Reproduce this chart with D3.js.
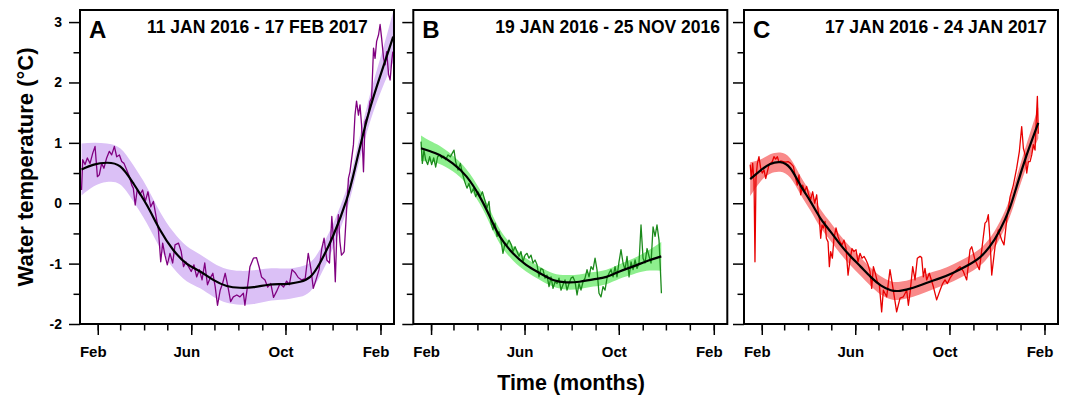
<!DOCTYPE html>
<html>
<head>
<meta charset="utf-8">
<script src="https://cdn.jsdelivr.net/npm/d3@7"></script>
<style>
  body { margin: 0; background: #fff; }
  svg { display: block; font-family: "Liberation Sans", Arial, sans-serif; }
  .tick line { stroke: #000; stroke-width: 1.5; }
  .tick text { font-weight: bold; fill: #000; }
</style>
</head>
<body>
<svg id="Vis" width="1070" height="398"></svg>
<script>
/*
* DATA
*/

// raw series: [day since 1 Jan 2016, water temperature]
const rawA = [[10,0.22],[11.5,0.72],[14.5,0.64],[17.5,0.75],[21,0.66],[24.5,0.83],[27.5,0.94],[30.5,0.44],[33,0.47],[36,0.66],[39,0.58],[42.5,0.75],[46,0.86],[49,0.80],[52.5,0.94],[55.5,0.77],[59,0.80],[62,0.69],[65,0.66],[68.5,0.55],[72,0.44],[75,0.30],[77,0.25],[79.5,-0.03],[82,0.22],[85.5,0.14],[89,0.22],[92.5,0.03],[96,0.19],[99.5,-0.06],[103,0.03],[106.5,-0.22],[109.5,-0.44],[112.5,-0.97],[115,-0.66],[118,-0.86],[121,-1.02],[124.5,-0.83],[128,-0.99],[131,-0.69],[135.5,-0.66],[139,-0.80],[142,-1.05],[145,-0.97],[148.5,-1.05],[152,-1.13],[155.5,-1.02],[159,-1.22],[162.5,-1.10],[166,-1.27],[169.5,-0.99],[173,-1.35],[176.5,-1.24],[180,-1.16],[183,-1.38],[186,-1.69],[189.5,-1.44],[192.5,-1.33],[196,-1.16],[199.5,-1.38],[203,-1.63],[206.5,-1.55],[211,-1.52],[215,-1.55],[219.5,-1.49],[221.5,-1.69],[226,-1.27],[228,-1.05],[232.5,-0.91],[236.5,-0.90],[240,-1.06],[243,-1.22],[247.5,-1.27],[251,-1.39],[255,-1.33],[258.5,-1.56],[262.5,-1.46],[267,-1.33],[271.5,-1.39],[275.5,-1.29],[279,-1.35],[282.5,-1.10],[286.5,-1.15],[290.5,-1.23],[295,-1.27],[299.5,-1.25],[303.5,-0.83],[307,-1.09],[310,-1.41],[313.5,-1.27],[317.5,-1.10],[321,-0.75],[324,-0.58],[327.5,-0.94],[331,-0.99],[334,-0.22],[336.5,-0.66],[338.5,-1.30],[340.5,-0.50],[342.5,-0.19],[344.5,-0.64],[346.5,-0.86],[348.5,-0.83],[350,-0.80],[351.5,-0.47],[353,-0.14],[355.5,0.41],[357.5,0.52],[362,0.97],[364,1.46],[366,1.69],[368.5,1.46],[370.5,1.63],[372.5,1.30],[375,0.52],[377,1.35],[381,1.46],[383.5,1.69],[385.5,1.74],[388,2.57],[390,2.40],[392,2.68],[394.5,2.79],[396.5,2.96],[398.5,2.73],[401,2.40],[403,2.29],[405,2.51],[407.5,2.13],[409.5,2.04],[411.5,2.35],[413,2.51]];

const rawB = [[18,1.02],[19.7,0.66],[21.8,0.88],[24,0.72],[26.6,0.64],[29.2,0.77],[31.8,0.64],[34.4,0.75],[37,0.60],[39.5,0.77],[42.1,0.80],[44.7,0.75],[47.3,0.78],[49.9,0.72],[52.9,0.80],[56,0.77],[58.5,0.83],[60.7,0.88],[62.8,0.69],[65.9,0.55],[68.9,0.66],[71.5,0.50],[74.5,0.36],[77.5,0.25],[80.1,0.33],[83.1,0.17],[86.2,0.25],[88.7,0.11],[91.8,0.19],[94.8,0.11],[97.4,0.19],[100.4,0.06],[103.4,-0.08],[106,0.03],[108.6,-0.33],[111.2,-0.44],[113.8,-0.33],[116.4,-0.55],[119,-0.47],[121.5,-0.61],[124.1,-0.83],[126.7,-0.66],[129.3,-0.69],[131.9,-0.61],[134.9,-0.69],[137.1,-0.80],[139.7,-0.72],[142.3,-0.80],[144.9,-0.88],[147.4,-0.80],[150,-0.97],[152.6,-0.86],[155.2,-0.83],[157.8,-0.91],[160.4,-0.86],[163,-0.99],[165.6,-0.94],[168.2,-1.02],[170.7,-1.22],[173.3,-1.08],[175.9,-1.10],[178.5,-1.24],[181.1,-1.19],[183.7,-1.38],[186.3,-1.22],[188.9,-1.41],[191.5,-1.30],[194.1,-1.33],[196.6,-1.24],[199.2,-1.44],[201.8,-1.35],[204.4,-1.27],[207,-1.44],[209.6,-1.33],[212.2,-1.24],[214.8,-1.22],[217.4,-1.30],[220,-1.52],[222.5,-1.33],[225.1,-1.44],[227.7,-1.30],[230.3,-1.24],[232.9,-1.10],[235.5,-1.22],[238.1,-1.05],[240.7,-1.10],[243.3,-0.91],[245.8,-1.10],[248.4,-1.49],[251,-1.55],[253.6,-1.38],[256.2,-1.44],[258.8,-1.24],[261.4,-1.16],[264,-1.10],[266.6,-1.22],[269.2,-1.05],[271.7,-1.22],[274.3,-0.97],[276.9,-0.77],[279.5,-0.99],[282.1,-1.10],[284.7,-0.88],[287.3,-1.22],[289.9,-0.97],[292.5,-1.10],[295.1,-0.94],[297.6,-1.08],[300.2,-0.99],[302.8,-0.36],[305.4,-0.91],[308,-0.99],[310.6,-0.75],[313.2,-0.88],[315.8,-0.99],[318.4,-0.39],[321,-0.55],[323.5,-0.36],[326.1,-0.61],[327.9,-1.10],[329.2,-1.49]];

const rawC = [[16,0.64],[17.5,0.41],[19.2,0.66],[21,0.36],[22.2,-0.97],[23.5,0.41],[25.3,0.66],[27.4,0.77],[29.6,0.58],[31.7,0.50],[33.9,0.55],[36.1,0.41],[38.2,0.52],[40.4,0.64],[42.5,0.66],[44.7,0.69],[46.8,0.77],[49,0.73],[51.2,0.77],[53.3,0.68],[55.5,0.70],[58.9,0.69],[62,0.68],[65,0.69],[68.4,0.66],[71.9,0.61],[74.9,0.41],[77,0.30],[79.2,0.47],[81.4,0.14],[84,0.30],[86.6,0.19],[89.1,0.28],[91.7,0.14],[94.3,0.06],[96.9,0.19],[99.5,0.0],[102.1,0.14],[103.8,-0.11],[105.5,-0.25],[107.3,-0.58],[109,-0.36],[110.7,-0.41],[112.9,-0.30],[114.6,-0.58],[116.8,-0.64],[118.5,-1.05],[120.2,-0.80],[122.4,-0.91],[124.5,-0.58],[127.1,-0.41],[129.7,-0.55],[132.3,-0.64],[134.9,-0.69],[137.5,-0.61],[140.1,-0.75],[142.7,-1.19],[145.2,-0.94],[147.8,-0.75],[150.4,-0.80],[153,-0.77],[155.6,-0.97],[158.2,-0.83],[160.8,-0.91],[163.4,-0.88],[166,-0.94],[168.6,-1.02],[171.1,-1.13],[173.3,-1.41],[175.5,-1.05],[178,-1.16],[180.6,-1.30],[183.2,-1.35],[186.2,-1.80],[188.4,-1.44],[192.7,-1.55],[197,-1.10],[201.3,-1.44],[205.6,-1.80],[210,-1.57],[214.3,-1.55],[218.6,-1.44],[220.8,-1.69],[222.9,-1.49],[226.4,-1.05],[229.4,-1.27],[232.4,-0.91],[235.9,-0.88],[238,-0.90],[240.2,-1.22],[242.3,-1.08],[244.5,-1.27],[247.9,-1.16],[253.1,-1.38],[257.4,-1.60],[261.8,-1.44],[265.2,-1.33],[268.2,-1.27],[271.3,-1.33],[274.7,-1.24],[279,-1.16],[283.3,-1.10],[287.6,-1.05],[292,-1.13],[296.3,-1.27],[300.6,-0.77],[302.8,-0.72],[307.1,-0.94],[312.7,-1.10],[317.9,-0.55],[320,-0.33],[322.2,-0.30],[324.3,-0.19],[326.5,-0.61],[328.7,-1.19],[333,-0.72],[337.3,-0.44],[341.6,-0.61],[344.6,-0.69],[348.1,-0.28],[352.4,0.10],[356.7,0.30],[361,0.58],[364.5,0.86],[367.5,1.27],[369.7,0.91],[371.9,0.80],[374,0.50],[376.2,0.69],[378.3,0.69],[380.5,0.80],[382.6,0.97],[384.8,0.88],[386.1,1.30],[387.8,1.77],[389,1.15]];

// fitted curve: [day since 1 Jan 2016, fit, confidence half-width]
const fitA = [[10,0.56,0.43],[26,0.64,0.36],[42.5,0.67,0.32],[60,0.61,0.30],[76.5,0.34,0.30],[94.5,-0.03,0.30],[111.5,-0.44,0.30],[128.5,-0.77,0.30],[146,-1.0,0.29],[163.5,-1.13,0.28],[180.5,-1.27,0.28],[198,-1.37,0.28],[215,-1.40,0.28],[233,-1.39,0.28],[252,-1.35,0.27],[267,-1.34,0.26],[280,-1.33,0.25],[293,-1.30,0.25],[306,-1.22,0.24],[319,-0.98,0.22],[336,-0.53,0.20],[353,0.05,0.18],[364,0.58,0.18],[381,1.46,0.22],[398.5,2.18,0.30],[413.5,2.76,0.42]];

const fitB = [[18,0.91,0.21],[30,0.86,0.17],[42,0.80,0.15],[59,0.66,0.13],[77,0.44,0.12],[94,0.11,0.12],[107,-0.22,0.12],[120,-0.55,0.12],[137,-0.83,0.12],[154,-1.02,0.11],[172,-1.16,0.11],[189,-1.27,0.11],[206,-1.31,0.12],[223,-1.30,0.12],[241,-1.26,0.12],[258,-1.22,0.12],[275,-1.13,0.12],[292,-1.05,0.13],[310,-0.96,0.16],[329,-0.88,0.24]];

const fitC = [[16,0.40,0.28],[30,0.55,0.18],[42,0.65,0.16],[55,0.68,0.16],[68,0.58,0.16],[81,0.30,0.15],[94,0.03,0.15],[107,-0.25,0.15],[120,-0.47,0.15],[133,-0.69,0.15],[146,-0.88,0.15],[159,-1.05,0.15],[172,-1.22,0.15],[185,-1.36,0.15],[198,-1.44,0.15],[210,-1.45,0.15],[227,-1.40,0.15],[244,-1.32,0.15],[262,-1.24,0.14],[279,-1.15,0.14],[296,-1.04,0.14],[313,-0.90,0.14],[326,-0.72,0.14],[339,-0.45,0.14],[352,-0.08,0.15],[361,0.28,0.16],[374,0.80,0.19],[389,1.33,0.26]];

const panelLetters = ["A", "B", "C"];
const periodLabels = ["11 JAN 2016 - 17 FEB 2017", "19 JAN 2016 - 25 NOV 2016", "17 JAN 2016 - 24 JAN 2017"];
const majorMonthLabels = {1: "Feb", 5: "Jun", 9: "Oct"};
const yTicks = [-2, -1.5, -1, -0.5, 0, 0.5, 1, 1.5, 2, 2.5, 3];


/*
* SETUP
*/

const svg = d3.select("svg#Vis");
const W = 314, H = 314, top0 = 10;

const panels = [
  {left: 80,    raw: rawA, fit: fitA, line: "#800080", band: "#dbc0f6", periodX: 67},
  {left: 413.3, raw: rawB, fit: fitB, line: "#1b8a1b", band: "#8eef8e", periodX: 82},
  {left: 744,   raw: rawC, fit: fitC, line: "#e80000", band: "#f98a8a", periodX: 81}
];

function day(d) {
  return new Date(Date.UTC(2016, 0, 1) + d * 864e5);
}

const x = d3.scaleUtc().domain([day(8), day(414.5)]).range([0, W]);
const y = d3.scaleLinear().domain([-2, 3.2]).range([H, 0]);

const months = d3.utcMonth.range(day(8), day(414.5));
const majorMonths = months.filter(m => m.getUTCMonth() % 4 === 1);


/*
* DRAW PANELS
*/

panels.forEach(function(p, i) {
  const g = svg.append("g").attr("transform", translate(p.left, top0));

  const area = d3.area()
    .x(d => x(day(d[0])))
    .y0(d => y(d[1] - d[2]))
    .y1(d => y(d[1] + d[2]))
    .curve(d3.curveNatural);

  const fitLine = d3.line()
    .x(d => x(day(d[0])))
    .y(d => y(d[1]))
    .curve(d3.curveNatural);

  const rawLine = d3.line()
    .x(d => x(day(d[0])))
    .y(d => y(d[1]));

  g.append("path").datum(p.fit).attr("d", area).attr("fill", p.band);
  g.append("path").datum(p.raw).attr("d", rawLine)
    .attr("fill", "none").attr("stroke", p.line).attr("stroke-width", 1.3)
    .attr("stroke-linejoin", "round");
  g.append("path").datum(p.fit).attr("d", fitLine)
    .attr("fill", "none").attr("stroke", "#000").attr("stroke-width", 2.2);

  /* minor + major ticks, bottom */
  g.append("g").attr("transform", translate(0, H))
    .call(d3.axisBottom(x).tickValues(months).tickSize(6.5).tickFormat(""))
    .call(a => a.select(".domain").remove());
  g.append("g").attr("transform", translate(0, H))
    .call(d3.axisBottom(x).tickValues(majorMonths).tickSize(11)
      .tickFormat(d => majorMonthLabels[d.getUTCMonth()]))
    .call(a => a.select(".domain").remove())
    .call(a => a.selectAll("text")
      .attr("y", 33).attr("dy", null).attr("dx", -5)
      .style("font-size", "15px").style("font-family", "Liberation Sans, Arial, sans-serif"));

  /* minor + major ticks, left */
  g.append("g")
    .call(d3.axisLeft(y).tickValues(yTicks.filter(v => v % 1 !== 0)).tickSize(6.5).tickFormat(""))
    .call(a => a.select(".domain").remove());
  g.append("g")
    .call(d3.axisLeft(y).tickValues(yTicks.filter(v => v % 1 === 0)).tickSize(11)
      .tickPadding(7).tickFormat(i === 0 ? d3.format("d") : ""))
    .call(a => a.select(".domain").remove())
    .call(a => a.selectAll("text")
      .style("font-size", "14px").style("font-family", "Liberation Sans, Arial, sans-serif"))
    .call(a => a.selectAll("text").text(function() { return this.textContent.replace("\u2212", "-"); }));

  /* frame */
  g.append("rect").attr("width", W).attr("height", H)
    .attr("fill", "none").attr("stroke", "#000").attr("stroke-width", 2);

  /* labels */
  g.append("text").attr("x", 9).attr("y", 28)
    .style("font-size", "24px").style("font-weight", "bold")
    .text(panelLetters[i]);
  g.append("text").attr("x", p.periodX).attr("y", 23)
    .style("font-size", "17.5px").style("font-weight", "bold")
    .text(periodLabels[i]);
});

/* axis titles */
svg.append("text")
  .attr("transform", "translate(33,167) rotate(-90)")
  .attr("text-anchor", "middle")
  .style("font-size", "22px").style("font-weight", "bold")
  .text("Water temperature (\u00B0C)");

svg.append("text")
  .attr("x", 571).attr("y", 390)
  .attr("text-anchor", "middle")
  .style("font-size", "21.5px").style("font-weight", "bold")
  .text("Time (months)");


/*
* HELPER FUNCTIONS
*/

function translate(x, y) {
  return 'translate(' + String(x) + ',' + String(y) + ')';
}
</script>
</body>
</html>
